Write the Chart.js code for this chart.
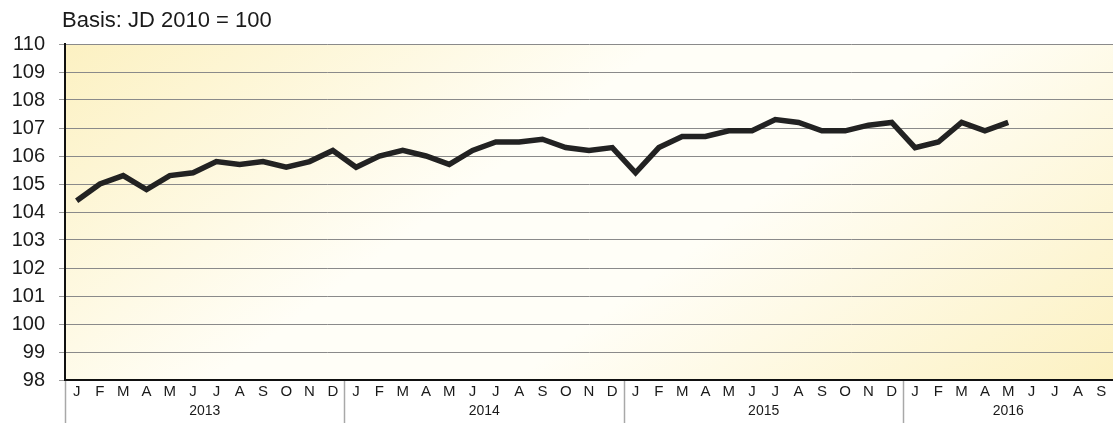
<!DOCTYPE html>
<html>
<head>
<meta charset="utf-8">
<script src="https://cdn.jsdelivr.net/npm/chart.js@4/dist/chart.umd.min.js"></script>
<style>
  html, body { margin: 0; padding: 0; background: #ffffff; }
  #wrap { width: 1113px; height: 423px; position: relative; }
</style>
</head>
<body>
<div id="wrap"><canvas id="c"></canvas></div>
<script>
const titleText = "Basis: JD 2010 = 100";
const monthLetters = ["J","F","M","A","M","J","J","A","S","O","N","D"];
const years = ["2013","2014","2015","2016"];
const monthsInYear = [12, 12, 12, 9];
const yTicks = [98,99,100,101,102,103,104,105,106,107,108,109,110];

const values2013 = [104.4,105.0,105.3,104.8,105.3,105.4,105.8,105.7,105.8,105.6,105.8,106.2];
const values2014 = [105.6,106.0,106.2,106.0,105.7,106.2,106.5,106.5,106.6,106.3,106.2,106.3];
const values2015 = [105.4,106.3,106.7,106.7,106.9,106.9,107.3,107.2,106.9,106.9,107.1,107.2];
const values2016 = [106.3,106.5,107.2,106.9,107.2,null,null,null,null];

const labels = [];
years.forEach((y, i) => { for (let m = 0; m < monthsInYear[i]; m++) labels.push(monthLetters[m]); });
const values = [].concat(values2013, values2014, values2015, values2016);

const FONT = "'Liberation Sans', Arial, sans-serif";

const decor = {
  id: 'decor',
  beforeDraw(chart) {
    const {ctx, chartArea: a} = chart;
    const cx = (a.left + a.right) / 2, cy = (a.top + a.bottom) / 2;
    const dx = 0.598, dy = 0.801;
    const hx = cx - a.left, hy = cy - a.top;
    const half = hx * dx + hy * dy;
    const g = ctx.createLinearGradient(cx - half * dx, cy - half * dy, cx + half * dx, cy + half * dy);
    g.addColorStop(0, '#fcf1c2');
    g.addColorStop(0.40, '#fffef7');
    g.addColorStop(0.60, '#fffef7');
    g.addColorStop(1, '#fcf1c2');
    ctx.save();
    ctx.fillStyle = g;
    ctx.fillRect(a.left, a.top, a.right - a.left, a.bottom - a.top);
    ctx.restore();
  },
  afterDraw(chart) {
    const {ctx, chartArea: a} = chart;
    const xs = chart.scales.x;
    ctx.save();
    ctx.fillStyle = '#1a1a1a';
    ctx.font = '22px ' + FONT;
    ctx.textAlign = 'left';
    ctx.textBaseline = 'middle';
    ctx.fillText(titleText, 62, 21);
    let start = 0;
    const step = xs.getPixelForValue(1) - xs.getPixelForValue(0);
    ctx.strokeStyle = '#a8a8a8';
    ctx.lineWidth = 1.5;
    ctx.font = '14px ' + FONT;
    ctx.textAlign = 'center';
    years.forEach((y, i) => {
      const n = monthsInYear[i];
      const x0 = xs.getPixelForValue(start) - step / 2;
      ctx.beginPath();
      ctx.moveTo(Math.round(x0) + 0.5, a.bottom + 1);
      ctx.lineTo(Math.round(x0) + 0.5, chart.height);
      ctx.stroke();
      const mid = xs.getPixelForValue(start) + step * (n - 1) / 2;
      ctx.fillStyle = '#1a1a1a';
      ctx.fillText(y, mid, 411);
      start += n;
    });
    ctx.restore();
  }
};

new Chart(document.getElementById('c'), {
  type: 'line',
  data: {
    labels: labels,
    datasets: [{
      data: values,
      borderColor: '#222222',
      borderWidth: 5.5,
      pointRadius: 0,
      tension: 0,
      spanGaps: false,
      borderJoinStyle: 'miter',
      fill: false
    }]
  },
  options: {
    responsive: true,
    maintainAspectRatio: false,
    animation: false,
    devicePixelRatio: 1,
    layout: { padding: { top: 44, left: 0, right: 0, bottom: 0 } },
    plugins: { legend: { display: false }, tooltip: { enabled: false }, title: { display: false } },
    scales: {
      x: {
        type: 'category',
        offset: true,
        afterFit(s) { s.height = 43; },
        grid: { display: false, drawTicks: false },
        border: { display: true, color: '#111111', width: 2 },
        ticks: {
          autoSkip: false, maxRotation: 0, minRotation: 0, padding: 3,
          color: '#1a1a1a', font: { family: FONT, size: 15 }
        }
      },
      y: {
        min: 98, max: 110,
        afterFit(s) { s.width = 65; },
        afterBuildTicks(s) { s.ticks = yTicks.map(v => ({ value: v })); },
        grid: { color: '#8a8a8a', lineWidth: 1, tickLength: 6, tickColor: '#9a9a9a' },
        border: { display: true, color: '#111111', width: 2 },
        ticks: {
          padding: 14, color: '#1a1a1a', font: { family: FONT, size: 20 }
        }
      }
    }
  },
  plugins: [decor]
});
</script>
</body>
</html>
